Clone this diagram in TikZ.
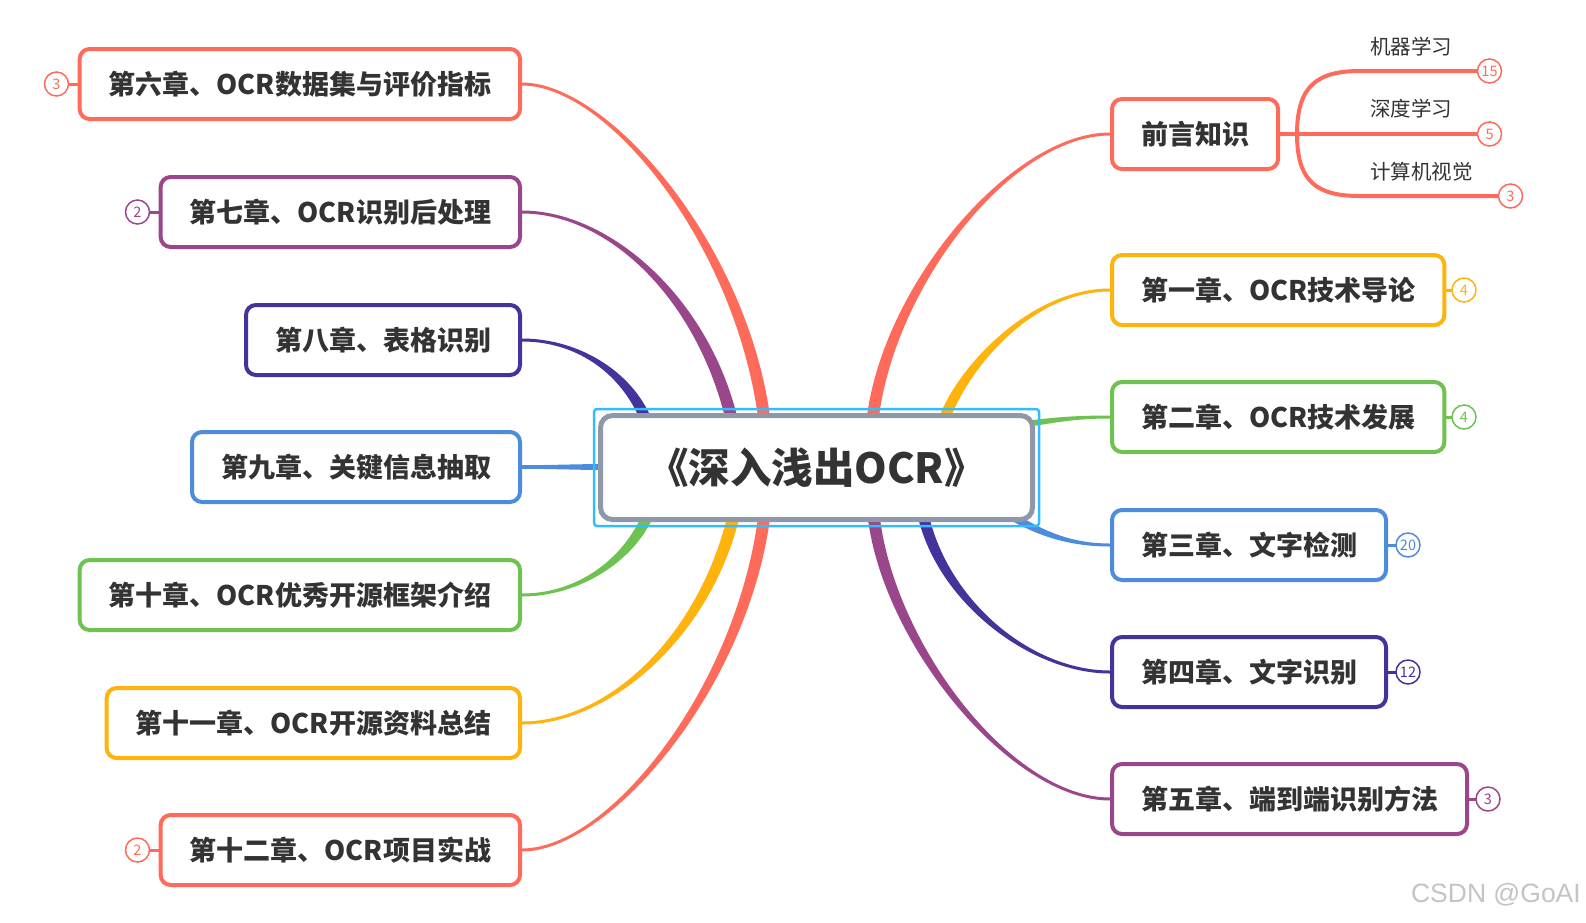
\documentclass[tikz,border=0pt]{standalone}
\usepackage{fontspec}
\setmainfont{Noto Sans CJK SC}
\newfontfamily\wmfont{Liberation Sans}
\usetikzlibrary{calc}
\definecolor{cRed}{HTML}{FF6B5B}
\definecolor{cPurple}{HTML}{9A468A}
\definecolor{cIndigo}{HTML}{42349A}
\definecolor{cBlue}{HTML}{4D8CDB}
\definecolor{cGreen}{HTML}{6EC350}
\definecolor{cYellow}{HTML}{FFB30D}
\definecolor{cGray}{HTML}{8F98A8}
\definecolor{cHi}{HTML}{33BBFF}
\definecolor{txt}{HTML}{333333}
\definecolor{wmc}{HTML}{C4C4C4}
\pgfdeclarelayer{bg}
\pgfsetlayers{bg,main}
% #1 colour, #2 start, #3 c1, #4 c2, #5 end, #6 normal at start, #7 normal at end
\newcommand\taper[7]{\fill[#1] ($#2+#6$) .. controls ($#3+#6$) and ($#4+#7$) .. ($#5+#7$) -- ($#5-#7$) .. controls ($#4-#7$) and ($#3-#6$) .. ($#2-#6$) -- cycle;}
\begin{document}
\begin{tikzpicture}[x=1pt,y=-1pt,
  chap/.style={draw=#1, line width=4pt, rounded corners=10pt, fill=white, minimum height=70pt, inner xsep=29pt, inner ysep=0pt, text=txt, font=\fontsize{27}{32}\selectfont\bfseries},
  badge/.style={circle, draw=#1, line width=1.5pt, fill=white, minimum size=24pt, inner sep=0pt, text=#1, font=\fontsize{14.5}{14.5}\selectfont},
  stem/.style={draw=#1, line width=3pt},
  sublabel/.style={anchor=west, inner sep=0pt, text=txt, font=\fontsize{20.5}{24}\selectfont},
  subline/.style={draw=cRed, line width=4pt},
]
\useasboundingbox (0,0) rectangle (1586,922);

% centre
\node[draw=cGray, line width=5pt, rounded corners=12pt, fill=white, minimum width=432pt, minimum height=104pt, text=txt, font=\fontsize{41.5}{46}\selectfont\bfseries] (c) at (816.5,467.5) {《深入浅出OCR》};
\draw[cHi, line width=2.5pt, rounded corners=3pt] (594,409) rectangle (1039,526);

% left chapters
\node[chap=cRed, anchor=east] (n6) at (522,84) {第六章、OCR数据集与评价指标};
\node[chap=cPurple, anchor=east] (n7) at (522,212) {第七章、OCR识别后处理};
\node[chap=cIndigo, anchor=east] (n8) at (522,340) {第八章、表格识别};
\node[chap=cBlue, anchor=east] (n9) at (522,467) {第九章、关键信息抽取};
\node[chap=cGreen, anchor=east] (n10) at (522,595) {第十章、OCR优秀开源框架介绍};
\node[chap=cYellow, anchor=east] (n11) at (522,723) {第十一章、OCR开源资料总结};
\node[chap=cRed, anchor=east] (n12) at (522,850) {第十二章、OCR项目实战};

% right chapters
\node[chap=cRed, anchor=west] (n0) at (1110,134) {前言知识};
\node[chap=cYellow, anchor=west] (n1) at (1110,290) {第一章、OCR技术导论};
\node[chap=cGreen, anchor=west] (n2) at (1110,417) {第二章、OCR技术发展};
\node[chap=cBlue, anchor=west] (n3) at (1110,545) {第三章、文字检测};
\node[chap=cIndigo, anchor=west] (n4) at (1110,672) {第四章、文字识别};
\node[chap=cPurple, anchor=west] (n5) at (1110,799) {第五章、端到端识别方法};

% badges
\node[badge=cRed] (b6) at (56.5,84) {3};
\node[badge=cPurple] (b7) at (137.5,212) {2};
\node[badge=cRed] (b12) at (137.5,850) {2};
\node[badge=cYellow] (b1) at (1464,290) {4};
\node[badge=cGreen] (b2) at (1464,417) {4};
\node[badge=cBlue] (b3) at (1408,545) {20};
\node[badge=cIndigo] (b4) at (1408,672) {12};
\node[badge=cPurple] (b5) at (1488,799) {3};
\node[badge=cRed] (s15) at (1489.5,71) {15};
\node[badge=cRed] (s5) at (1489.5,134) {5};
\node[badge=cRed] (s3) at (1510.5,196) {3};

% sub-topic labels
\node[sublabel] (t1) at (1370,47) {机器学习};
\node[sublabel] (t2) at (1370,109) {深度学习};
\node[sublabel] (t3) at (1370,172) {计算机视觉};

% watermark
\node[anchor=east, inner sep=0pt, text=wmc, font=\wmfont\fontsize{26.5}{30}\selectfont] (wm) at (1581,895) {CSDN @GoAI};

% branch end points inside the centre node
\coordinate (e6) at (765,425);
\coordinate (e7) at (733,425);
\coordinate (e8) at (648,425);
\coordinate (e9) at (605,467);
\coordinate (e10) at (650,510);
\coordinate (e11) at (735,510);
\coordinate (e12) at (765,510);
\coordinate (e0) at (872,425);
\coordinate (e1) at (942,425);
\coordinate (e2) at (1025,424);
\coordinate (e3) at (1008,514);
\coordinate (e4) at (922,510);
\coordinate (e5) at (873,510);
\coordinate (j) at (1297,134);
\coordinate (k1) at (1360,71);
\coordinate (k3) at (1360,196);

\begin{pgfonlayer}{bg}
\fill[white] (0,0) rectangle (1586,922);
\taper{cRed}{(n6.east)}{(610,84)}{(745,250)}{(e6)}{(0,-1.5)}{(5.96,-0.68)}
\taper{cPurple}{(n7.east)}{(610,212)}{(705,300)}{(e7)}{(0,-1.5)}{(5.86,-1.31)}
\taper{cIndigo}{(n8.east)}{(580,340)}{(630,375)}{(e8)}{(0,-1.5)}{(5.18,-1.86)}
\taper{cBlue}{(n9.east)}{(550,467)}{(580,467)}{(e9)}{(0,-1.8)}{(0,-3)}
\taper{cGreen}{(n10.east)}{(580,595)}{(632,558)}{(e10)}{(0,-1.5)}{(-5.15,-1.93)}
\taper{cYellow}{(n11.east)}{(610,723)}{(707,635)}{(e11)}{(0,-1.5)}{(-5.86,-1.31)}
\taper{cRed}{(n12.east)}{(610,850)}{(745,685)}{(e12)}{(0,-1.5)}{(-5.96,-0.68)}
\taper{cRed}{(n0.west)}{(1010,134)}{(885,290)}{(e0)}{(0,1.5)}{(5.97,0.58)}
\taper{cYellow}{(n1.west)}{(1030,290)}{(960,370)}{(e1)}{(0,1.5)}{(5.23,1.71)}
\taper{cGreen}{(n2.west)}{(1070,417)}{(1050,421)}{(e2)}{(0,1.5)}{(0.36,2.98)}
\taper{cBlue}{(n3.west)}{(1065,545)}{(1035,530)}{(e3)}{(0,1.5)}{(-2.18,3.35)}
\taper{cIndigo}{(n4.west)}{(1030,672)}{(940,600)}{(e4)}{(0,1.5)}{(-5.4,1.08)}
\taper{cPurple}{(n5.west)}{(1010,799)}{(885,640)}{(e5)}{(0,1.5)}{(-5.98,0.55)}
% badge stems
\draw[stem=cRed] (n6.west) -- (b6.center);
\draw[stem=cPurple] (n7.west) -- (b7.center);
\draw[stem=cRed] (n12.west) -- (b12.center);
\draw[stem=cYellow] (n1.east) -- (b1.center);
\draw[stem=cGreen] (n2.east) -- (b2.center);
\draw[stem=cBlue] (n3.east) -- (b3.center);
\draw[stem=cIndigo] (n4.east) -- (b4.center);
\draw[stem=cPurple] (n5.east) -- (b5.center);
% sub-topic lines
\draw[subline] (n0.east) -- (j);
\draw[subline] (j) .. controls (1297,85) and (1318,71) .. (k1) -- (s15.center);
\draw[subline] (j) -- (s5.center);
\draw[subline] (j) .. controls (1297,183) and (1318,196) .. (k3) -- (s3.center);
\end{pgfonlayer}
\end{tikzpicture}
\end{document}
